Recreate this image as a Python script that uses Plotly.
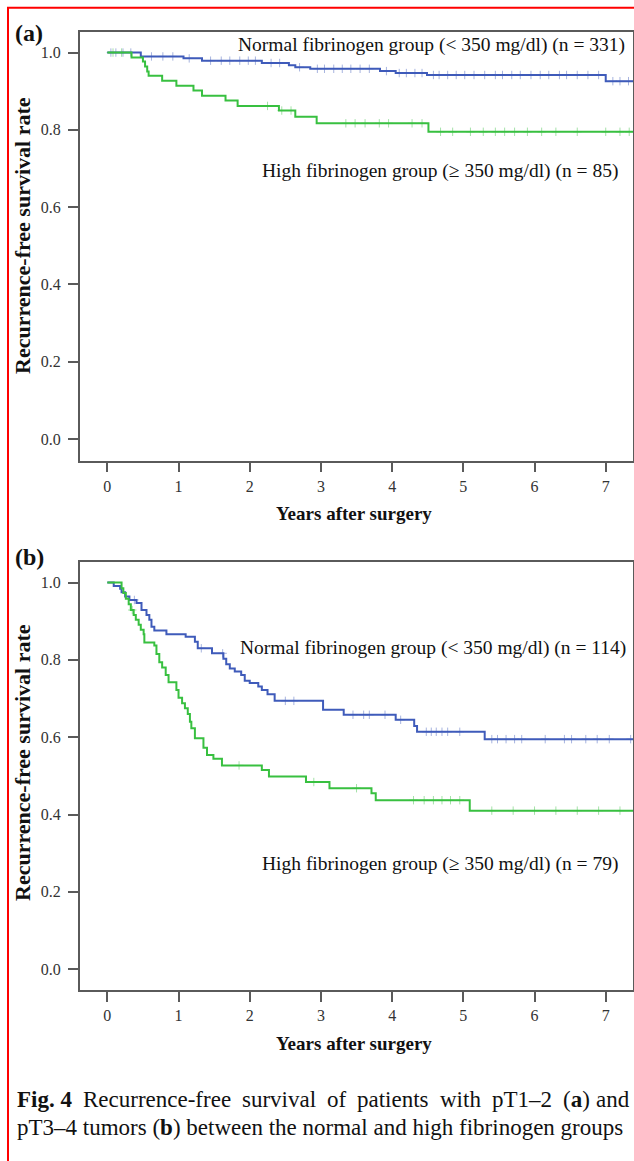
import numpy as np
import plotly.graph_objects as go

W, H = 634, 1161

# ---------------- data ----------------
years_ticks = [0, 1, 2, 3, 4, 5, 6, 7]
rate_ticks = [0.0, 0.2, 0.4, 0.6, 0.8, 1.0]

# Panel (a) pT1-2 : normal fibrinogen group (event times, survival after event)
a_normal_t = [0.47, 1.07, 1.33, 2.17, 2.55, 2.64, 2.85, 3.83, 4.05, 4.49, 7.0]
a_normal_s = [0.990, 0.985, 0.979, 0.973, 0.967, 0.962, 0.958, 0.952, 0.947, 0.942, 0.926]
a_normal_cens = [0.05, 0.12, 0.22, 0.33, 0.62, 0.78, 0.92, 1.15, 1.45, 1.6, 1.72, 1.86, 1.98,
                 2.08, 2.3, 2.42, 2.7, 2.95, 3.05, 3.18, 3.3, 3.42, 3.55, 3.68, 3.92, 4.1,
                 4.2, 4.32, 4.42, 4.58, 4.66, 4.78, 4.9, 5.02, 5.15, 5.3, 5.45, 5.55, 5.68,
                 5.8, 5.95, 6.08, 6.2, 6.35, 6.45, 6.6, 6.75, 6.9, 7.1, 7.2, 7.32]

# Panel (a) pT1-2 : high fibrinogen group
a_high_t = [0.34, 0.50, 0.53, 0.56, 0.58, 0.77, 0.97, 1.21, 1.33, 1.66, 1.83, 2.41, 2.64, 2.94, 4.51]
a_high_s = [0.987, 0.977, 0.964, 0.951, 0.940, 0.927, 0.914, 0.902, 0.888, 0.876, 0.862,
            0.850, 0.834, 0.817, 0.795]
a_high_cens = [0.08, 0.2, 2.25, 2.45, 2.58, 3.35, 3.48, 3.62, 3.82, 3.95, 4.28, 4.42,
               4.68, 4.85, 5.1, 5.28, 5.45, 5.58, 5.72, 5.9, 6.1, 6.3, 6.6, 7.0, 7.2, 7.33]

# Panel (b) pT3-4 : normal fibrinogen group
b_normal_t = [0.09, 0.18, 0.20, 0.25, 0.31, 0.41, 0.48, 0.55, 0.59, 0.62, 0.66, 0.83, 1.10,
              1.23, 1.27, 1.47, 1.63, 1.67, 1.72, 1.79, 1.88, 1.93, 2.0, 2.12, 2.17, 2.25,
              2.35, 3.03, 3.32, 4.05, 4.31, 4.35, 5.30]
b_normal_s = [0.991, 0.984, 0.975, 0.964, 0.955, 0.947, 0.929, 0.916, 0.904, 0.886, 0.876,
              0.866, 0.860, 0.847, 0.830, 0.817, 0.803, 0.789, 0.778, 0.770, 0.761, 0.746,
              0.740, 0.731, 0.722, 0.711, 0.694, 0.671, 0.658, 0.645, 0.629, 0.614, 0.595]
b_normal_cens = [0.38, 1.32, 1.62, 2.5, 2.62, 3.45, 3.6, 3.68, 3.9, 4.12, 4.48, 4.55, 4.62,
                 4.7, 4.78, 4.95, 5.4, 5.48, 5.6, 5.72, 5.82, 6.15, 6.42, 6.52, 6.72,
                 6.88, 7.05, 7.35]

# Panel (b) pT3-4 : high fibrinogen group
b_high_t = [0.20, 0.225, 0.26, 0.30, 0.33, 0.37, 0.40, 0.44, 0.47, 0.51, 0.52, 0.66, 0.69,
            0.73, 0.77, 0.82, 0.86, 0.97, 1.00, 1.05, 1.09, 1.13, 1.16, 1.18, 1.23, 1.35,
            1.40, 1.49, 1.61, 2.17, 2.27, 2.79, 3.12, 3.71, 3.77, 5.09]
b_high_s = [0.985, 0.973, 0.958, 0.944, 0.929, 0.916, 0.904, 0.891, 0.878, 0.866, 0.845,
            0.837, 0.815, 0.794, 0.780, 0.761, 0.742, 0.722, 0.702, 0.688, 0.675, 0.660,
            0.640, 0.623, 0.597, 0.573, 0.554, 0.544, 0.527, 0.515, 0.498, 0.484, 0.468,
            0.455, 0.437, 0.410]
b_high_cens = [0.35, 1.85, 2.9, 3.5, 4.3, 4.45, 4.58, 4.7, 4.82, 4.95, 5.4, 5.7, 6.0,
               6.3, 6.6, 6.9, 7.2]

END_T = 7.45
label_normal_a = "Normal fibrinogen group (< 350 mg/dl) (n = 331)"
label_high_a = "High fibrinogen group (≥ 350 mg/dl) (n = 85)"
label_normal_b = "Normal fibrinogen group (< 350 mg/dl) (n = 114)"
label_high_b = "High fibrinogen group (≥ 350 mg/dl) (n = 79)"
x_title = "Years after surgery"
y_title = "Recurrence-free survival rate"
cap1_words = ["<b>Fig. 4</b>", "Recurrence-free", "survival", "of", "patients", "with", "pT1–2",
              "(<b>a</b>)", "and"]
cap2 = "pT3–4 tumors (<b>b</b>) between the normal and high fibrinogen groups"

BLUE = "#3F5BBA"
GREEN = "#38C040"
SERIF = "Liberation Serif, Times New Roman, serif"
AXCOL = "#5A5A5A"


def step_xy(t, s):
    x = [0.0] + list(t) + [END_T]
    y = [1.0] + list(s) + [s[-1]]
    return x, y


def surv_at(t, s, times):
    t = np.asarray(t)
    s = np.asarray([1.0] + list(s))
    idx = np.searchsorted(t, np.asarray(times), side="right")
    return s[idx]


fig = go.Figure()

panels = [
    ("x", "y", [(a_normal_t, a_normal_s, a_normal_cens, BLUE), (a_high_t, a_high_s, a_high_cens, GREEN)]),
    ("x2", "y2", [(b_normal_t, b_normal_s, b_normal_cens, BLUE), (b_high_t, b_high_s, b_high_cens, GREEN)]),
]
for xa, ya, series in panels:
    for t, s, cens, col in series:
        x, y = step_xy(t, s)
        fig.add_trace(go.Scatter(x=x, y=y, mode="lines", line=dict(color=col, width=2, shape="hv"),
                                 xaxis=xa, yaxis=ya, showlegend=False, hoverinfo="skip"))
        fig.add_trace(go.Scatter(x=cens, y=surv_at(t, s, cens), mode="markers",
                                 marker=dict(symbol="cross-thin", size=6, opacity=0.45,
                                             line=dict(color=col, width=1)),
                                 xaxis=xa, yaxis=ya, showlegend=False, hoverinfo="skip"))


def px(x):
    return x / W


def py(y):
    return 1 - y / H


xdom = [px(79.7), px(633)]
xr = [-0.388, 7.383]
axis_common = dict(showline=True, linecolor=AXCOL, linewidth=1.5, mirror=True, ticks="outside",
                   ticklen=10, tickwidth=1.5, tickcolor=AXCOL, showgrid=False, zeroline=False,
                   tickfont=dict(family=SERIF, size=16, color="#333333"))

fig.update_layout(
    width=W, height=H, margin=dict(l=0, r=0, t=0, b=0),
    paper_bgcolor="white", plot_bgcolor="white",
    xaxis=dict(domain=xdom, range=xr, tickvals=years_ticks, anchor="y", **axis_common),
    yaxis=dict(domain=[py(460.7), py(31.7)], range=[-0.056, 1.054], tickvals=rate_ticks,
               tickformat=".1f", anchor="x", ticklabelstandoff=4, **axis_common),
    xaxis2=dict(domain=xdom, range=xr, tickvals=years_ticks, anchor="y2", **axis_common),
    yaxis2=dict(domain=[py(990), py(561.7)], range=[-0.054, 1.054], tickvals=rate_ticks,
                tickformat=".1f", anchor="x2", ticklabelstandoff=4, **axis_common),
)

ann = []


def add_text(text, x, y, size, xanchor="center", bold=False, angle=0):
    ann.append(dict(text=(f"<b>{text}</b>" if bold else text), x=px(x), y=py(y), xref="paper",
                    yref="paper", xanchor=xanchor, yanchor="middle", showarrow=False,
                    textangle=angle, font=dict(family=SERIF, size=size, color="#111111")))


# panel letters
add_text("(a)", 13, 33, 24, xanchor="left", bold=True)
add_text("(b)", 13, 557, 24, xanchor="left", bold=True)
# axis titles
add_text(x_title, 354, 513, 19, bold=True)
add_text(x_title, 354, 1043, 19, bold=True)
add_text(y_title, 22, 236, 22, bold=True, angle=-90)
add_text(y_title, 22, 763, 22, bold=True, angle=-90)
# curve labels
add_text(label_normal_a, 627, 45, 19.5, xanchor="right")
add_text(label_high_a, 620, 171, 19.5, xanchor="right")
add_text(label_normal_b, 628, 648, 19.5, xanchor="right")
add_text(label_high_b, 620, 864, 19.5, xanchor="right")

# caption line 1 (justified -> individual words)
cap1_x = [15, 81, 240, 325, 355, 438, 490, 561, 632]
for i, (wtxt, wx) in enumerate(zip(cap1_words, cap1_x)):
    add_text(wtxt, wx, 1099, 23, xanchor=("right" if i == len(cap1_words) - 1 else "left"))
add_text(cap2, 15, 1127, 23, xanchor="left")

fig.update_layout(annotations=ann)

# red frame
fig.add_shape(type="rect", xref="paper", yref="paper", x0=px(8), x1=px(700), y0=py(1250), y1=py(7.7),
              line=dict(color="#FF0000", width=2), fillcolor="rgba(0,0,0,0)")

fig.write_html("out.html", config={"displayModeBar": False},
               post_script="document.body.style.margin='0';document.body.style.overflow='hidden';")
